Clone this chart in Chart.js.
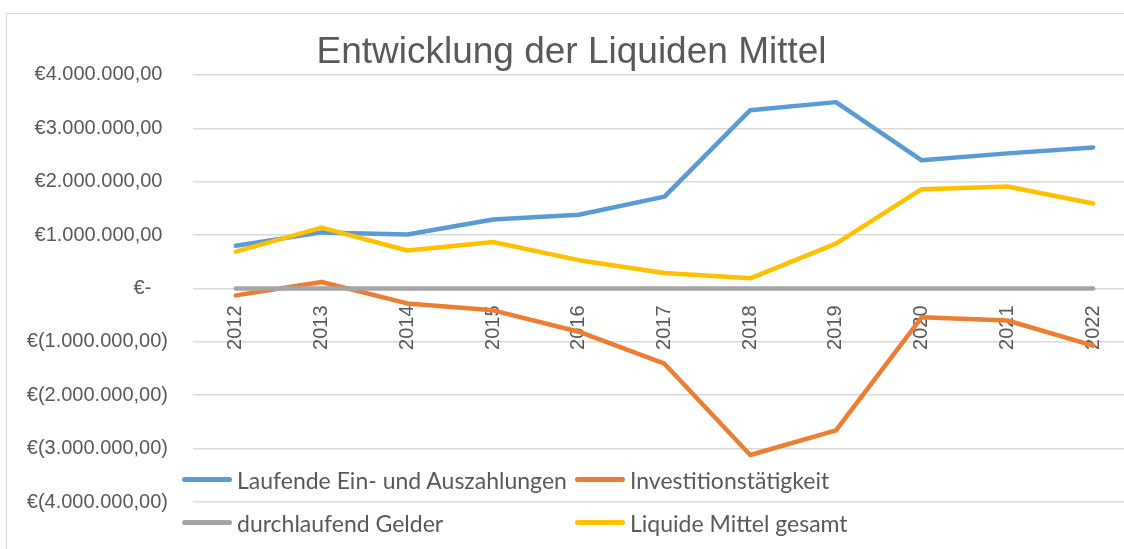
<!DOCTYPE html>
<html lang="de">
<head>
<meta charset="utf-8">
<title>Entwicklung der Liquiden Mittel</title>
<script src="https://cdn.jsdelivr.net/npm/chart.js@4"></script>
<style>
    html, body { margin: 0; padding: 0; background: #fff; overflow: hidden; }
    body { width: 1124px; height: 549px; position: relative; }
    #frame {
        position: absolute; left: 6px; top: 13px;
        width: 1140px; height: 560px;
        border: 1px solid #d9d9d9;
    }
    #chart-wrap { position: absolute; left: 0; top: 0; width: 1130px; height: 540px; }
    #legend {
        position: absolute; left: 175px; top: 444px;
        display: grid; grid-template-columns: 393px auto; grid-auto-rows: 43px;
        font-family: Lato, 'Noto Sans', sans-serif; font-size: 23px; color: #595959;
    }
    .lg-item { display: flex; align-items: center; }
    .lg-line { width: 50px; height: 5px; border-radius: 3px; margin-right: 5px; }
</style>
</head>
<body>
<div id="frame">
    <div id="chart-wrap"><canvas id="liquidChart"></canvas></div>
    <div id="legend"></div>
</div>
<script>
const years        = ['2012', '2013', '2014', '2015', '2016', '2017', '2018', '2019', '2020', '2021', '2022'];
const laufende     = [800000, 1050000, 1010000, 1290000, 1380000, 1720000, 3340000, 3490000, 2400000, 2530000, 2640000];
const investition  = [-130000, 120000, -280000, -410000, -810000, -1410000, -3120000, -2660000, -540000, -600000, -1070000];
const durchlaufend = [0, 0, 0, 0, 0, 0, 0, 0, 0, 0, 0];
const liquide      = [690000, 1140000, 710000, 870000, 530000, 290000, 190000, 840000, 1860000, 1910000, 1590000];
const yTicks       = [-4000000, 4000000, 1000000]; // min, max, step

const seriesNames  = ['Laufende Ein- und Auszahlungen', 'Investitionstätigkeit', 'durchlaufend Gelder', 'Liquide Mittel gesamt'];
const seriesColors = ['#5b9bd5', '#ed7d31', '#a5a5a5', '#ffc000'];
const seriesData   = [laufende, investition, durchlaufend, liquide];

// excel accounting format: €1.000.000,00 / €(1.000.000,00) / €-
function euro(v) {
    if (v === 0) return '€-   ';
    const s = Math.abs(v).toFixed(2).replace('.', ',').replace(/\B(?=(\d{3})+(?!\d))/g, '.');
    return v < 0 ? '€(' + s + ')' : '€' + s + ' ';
}

// chart.js draws dataset 0 on top, excel draws the last series on top
const datasets = seriesData.map(function (data, i) {
    return {
        label: seriesNames[i],
        data: data,
        borderColor: seriesColors[i],
        backgroundColor: seriesColors[i],
        borderWidth: 4.5,
        borderCapStyle: 'round',
        borderJoinStyle: 'round',
        pointRadius: 0,
        tension: 0,
        order: seriesData.length - i,
    };
});

const axisFont = { family: "'Liberation Sans', Arial, sans-serif", size: 20 };

new Chart(document.getElementById('liquidChart'), {
    type: 'line',
    data: { labels: years, datasets: datasets },
    options: {
        responsive: true,
        maintainAspectRatio: false,
        animation: false,
        layout: { padding: { left: 0, right: 1, top: 0, bottom: 52 } },
        plugins: {
            legend: { display: false },
            tooltip: { enabled: false },
            title: {
                display: true,
                text: 'Entwicklung der Liquiden Mittel',
                color: '#595959',
                font: { family: "'Liberation Sans', Arial, sans-serif", size: 37, weight: 'normal' },
                padding: { top: 16.5, bottom: 0 },
            }
        },
        scales: {
            x: {
                position: { y: 0 },
                offset: true,
                grid: { display: false, drawTicks: false },
                border: { display: false },
                ticks: { color: '#595959', font: axisFont, minRotation: 90, maxRotation: 90, padding: 17 }
            },
            y: {
                min: yTicks[0],
                max: yTicks[1],
                afterFit: function (scale) { scale.width = 186; },
                grid: { color: '#d9d9d9', lineWidth: 1.5, drawTicks: false },
                border: { display: false },
                ticks: {
                    stepSize: yTicks[2],
                    color: '#595959',
                    font: axisFont,
                    padding: 25,
                    callback: function (v) { return euro(v); }
                }
            }
        }
    }
});

// two-column legend like the excel original
const legend = document.getElementById('legend');
seriesNames.forEach(function (name, i) {
    const item = document.createElement('div');
    item.className = 'lg-item';
    const line = document.createElement('span');
    line.className = 'lg-line';
    line.style.background = seriesColors[i];
    const text = document.createElement('span');
    text.textContent = name;
    item.appendChild(line);
    item.appendChild(text);
    legend.appendChild(item);
});
</script>
</body>
</html>
